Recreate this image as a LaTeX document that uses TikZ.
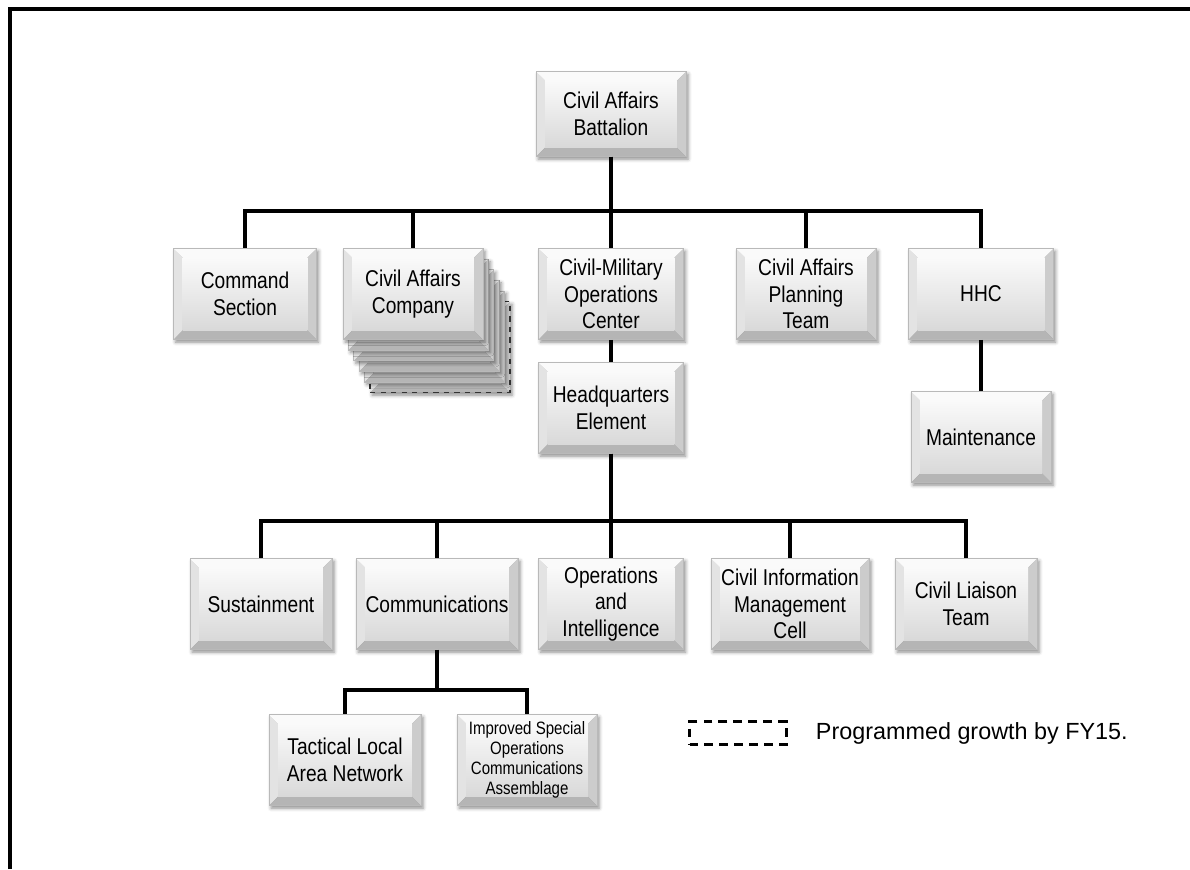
\documentclass[tikz,border=0pt]{standalone}
\usepackage{fontspec}
\setmainfont{Liberation Sans}
\newfontfamily\boxfont{Liberation Sans}[FakeStretch=0.84]
\usepackage{tikz}
\usetikzlibrary{calc,positioning,shadows.blur}

\tikzset{
  orgbox/.style={
    rectangle, draw=gray!55, line width=0.4pt,
    minimum width=2.8cm, minimum height=1.82cm, inner sep=2pt,
    align=center, font=\boxfont\fontsize{13}{15.2}\selectfont,
    blur shadow={shadow xshift=1.2pt, shadow yshift=-1.5pt, shadow blur radius=2pt, shadow opacity=45},
    path picture={
      \coordinate (pa) at (path picture bounding box.south west);
      \coordinate (pb) at (path picture bounding box.north east);
      \fill[gray!22] (pa) -- ($(pa)+(0.18cm,0.18cm)$) -- ($(pa|-pb)+(0.18cm,-0.18cm)$) -- (pa|-pb) -- cycle;
      \fill[gray!4] (pa|-pb) -- ($(pa|-pb)+(0.18cm,-0.18cm)$) -- ($(pb)+(-0.18cm,-0.18cm)$) -- (pb) -- cycle;
      \fill[gray!40] (pb) -- ($(pb)+(-0.18cm,-0.18cm)$) -- ($(pb|-pa)+(-0.18cm,0.18cm)$) -- (pb|-pa) -- cycle;
      \fill[gray!58] (pb|-pa) -- ($(pb|-pa)+(-0.18cm,0.18cm)$) -- ($(pa)+(0.18cm,0.18cm)$) -- (pa) -- cycle;
      \shade[top color=gray!4, bottom color=gray!30] ($(pa)+(0.18cm,0.18cm)$) rectangle ($(pb)+(-0.18cm,-0.18cm)$);
    }
  },
  link/.style={line width=2.3pt, black},
}

\begin{document}
\begin{tikzpicture}[x=0.02cm, y=-0.02cm]
    \useasboundingbox (0,0) rectangle (1190,869);
    \draw[line width=2.2pt, black] (10,869) -- (10,9) -- (1190,9);

    % top
    \node[orgbox, minimum width=3cm, minimum height=1.7cm] (bat) at (611,114) {Civil Affairs\\Battalion};

    % second row
    \node[orgbox, minimum width=2.86cm] (cmd) at (245,294) {Command\\Section};
    \node[orgbox, draw=black!80, dashed, line width=0.8pt] (cac5) at (440,347) {};
    \foreach \i in {4,3,...,1}
        \node[orgbox] (cac\i) at (413+5.4*\i,294+10.6*\i) {};
    \node[orgbox] (cac) at (413,294) {Civil Affairs\\Company};
    \node[orgbox, minimum width=2.9cm] (cmoc) at (611,294) {Civil-Military\\Operations\\Center};
    \node[orgbox] (capt) at (806,294) {Civil Affairs\\Planning\\Team};
    \node[orgbox, minimum width=2.9cm] (hhc) at (981,294) {HHC};
    \node[orgbox] (maint) at (981,437) {Maintenance};
    \node[orgbox, minimum width=2.9cm] (hq) at (611,408) {Headquarters\\Element};

    % third row
    \node[orgbox, minimum width=2.84cm] (sust) at (261,604) {Sustainment};
    \node[orgbox, minimum width=3.24cm] (comm) at (437,604) {Communications};
    \node[orgbox, minimum width=2.9cm] (opint) at (611,604) {Operations\\and\\Intelligence};
    \node[orgbox, minimum width=3.16cm] (cimc) at (790,604) {Civil Information\\Management\\Cell};
    \node[orgbox, minimum width=2.84cm] (clt) at (966,604) {Civil Liaison\\Team};

    % fourth row
    \node[orgbox, minimum width=3.04cm] (tlan) at (345,760) {Tactical Local\\Area Network};
    \node[orgbox, font=\boxfont\fontsize{10.2}{11.4}\selectfont] (isoca) at (527,760) {Improved Special\\Operations\\Communications\\Assemblage};

    % connectors
    \coordinate (busA) at (611,211);
    \foreach \n in {cmd,cac,cmoc,capt,hhc}
        \draw[link] (bat.south) -- (busA) -| (\n.north);
    \draw[link] (hhc.south) -- (maint.north);
    \draw[link] (cmoc.south) -- (hq.north);
    \coordinate (busB) at (611,521);
    \foreach \n in {sust,comm,opint,cimc,clt}
        \draw[link] (hq.south) -- (busB) -| (\n.north);
    \coordinate (busC) at (437,690);
    \foreach \n in {tlan,isoca}
        \draw[link] (comm.south) -- (busC) -| (\n.north);

    % legend
    \node[draw, dashed, dash pattern=on 5pt off 3.5pt, line width=1.3pt, minimum width=1.94cm, minimum height=0.46cm] (legbox) at (738,733) {};
    \node[inner sep=0pt, font=\fontsize{13.3}{15}\selectfont, right=0.56cm of legbox] (legtxt) {Programmed growth by FY15.};
\end{tikzpicture}
\end{document}
